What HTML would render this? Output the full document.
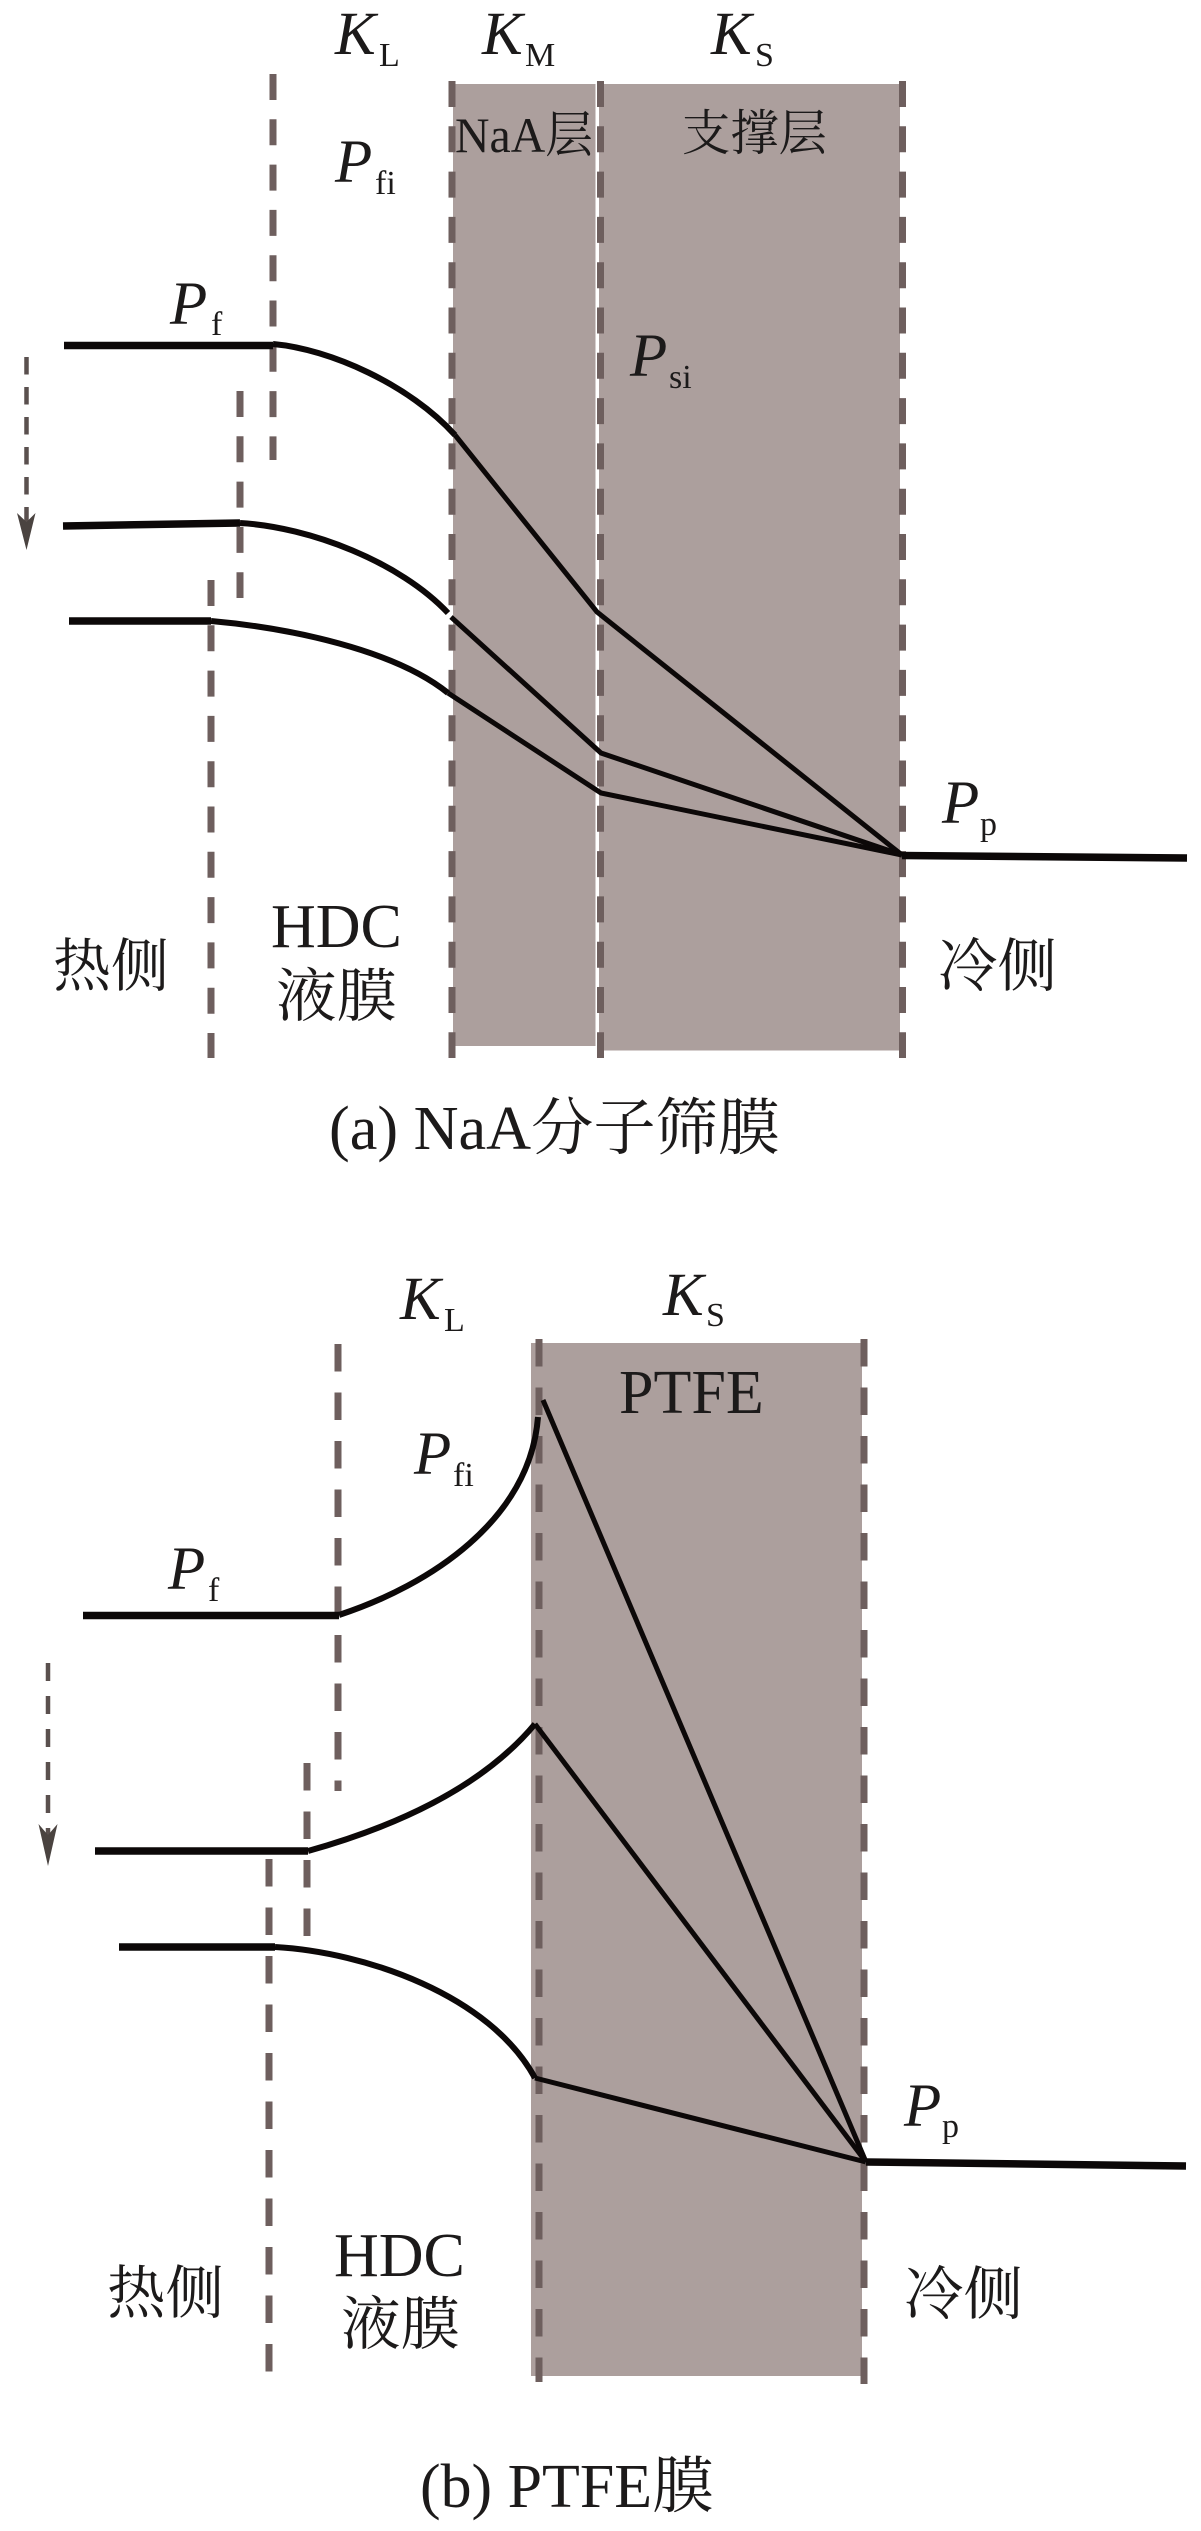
<!DOCTYPE html>
<html><head><meta charset="utf-8">
<style>
html,body{margin:0;padding:0;background:#fff}
svg{display:block}
text{font-family:"Liberation Serif","Noto Serif CJK SC",serif;fill:#1c1a1a}
.k{font-size:61px;font-style:italic}
.s{font-size:34px}
.c{font-size:58px}
.t{font-size:62px}
.d{stroke:#6e5f5e;stroke-width:7;fill:none;stroke-dasharray:26 19.300}
.e{stroke:#6e5f5e;stroke-width:7;fill:none;stroke-dasharray:27.500 21}
.a{stroke:#5a504e;stroke-width:4.500;fill:none}
.l{stroke:#0c0808;stroke-width:5;fill:none;stroke-linejoin:miter}
.m{stroke:#0c0808;stroke-width:6;fill:none}
.h{stroke:#0c0808;stroke-width:7.500;fill:none}
</style></head>
<body>
<svg width="1201" height="2531" viewBox="0 0 1201 2531" xmlns="http://www.w3.org/2000/svg">
<rect width="1201" height="2531" fill="#fff"/>
<!-- panel a -->
<rect x="453" y="84" width="142.500" height="962" fill="#ac9f9d"/>
<rect x="599" y="84" width="301" height="966.500" fill="#ac9f9d"/>
<path class="d" d="M452 81V1058M600.500 81V1058M902.500 81V1058M273 74V460M240 391V598M211 580V1058"/>
<path class="a" stroke-dasharray="17.500 12.500" d="M26.500 357V522"/>
<polygon points="26.500,550 17,513 26.500,522 35.500,513" fill="#4a4340"/>
<path class="h" d="M64 345.500H273M63 526L240 523M69 621H211"/>
<path class="h" stroke-width="6.500" d="M902 855.500L1187 858"/>
<path class="m" d="M273 344C330 349 410 385 455 435"/>
<path class="l" d="M455 435L597 612L902 855"/>
<path class="m" d="M240 523C310 527 400 562 448 613"/>
<path class="l" d="M451 617L601 753L902 855"/>
<path class="m" d="M211 621C290 628 395 650 448 693"/>
<path class="l" d="M448 693L601 793L902 855"/>
<text class="k" x="335" y="54">K</text><text class="s" x="379" y="66">L</text>
<text class="k" x="482" y="54">K</text><text class="s" x="525" y="66">M</text>
<text class="k" x="711" y="54">K</text><text class="s" x="755" y="66">S</text>
<text class="k" x="335" y="182">P</text><text class="s" x="375" y="194">fi</text>
<text class="k" x="170" y="324">P</text><text class="s" x="211" y="335">f</text>
<text class="k" x="630" y="376">P</text><text class="s" x="669" y="388">si</text>
<text class="k" x="942" y="823">P</text><text class="s" x="980" y="835">p</text>
<text x="455" y="152" font-size="50" textLength="138" lengthAdjust="spacingAndGlyphs">NaA层</text>
<text x="682" y="150" font-size="49" textLength="145" lengthAdjust="spacingAndGlyphs">支撑层</text>
<text class="c" x="53" y="986">热侧</text>
<text class="t" x="271" y="947">HDC</text>
<text class="c" x="276" y="1016" textLength="121" lengthAdjust="spacingAndGlyphs">液膜</text>
<text class="c" x="938" y="986" textLength="119" lengthAdjust="spacingAndGlyphs">冷侧</text>
<text class="t" x="329" y="1149" textLength="451" lengthAdjust="spacingAndGlyphs">(a) NaA分子筛膜</text>
<!-- panel b -->
<rect x="531" y="1343" width="331" height="1033" fill="#ac9f9d"/>
<path class="e" d="M539 1339V2382M864 1339V2384M338 1344V1791M307 1763V1936M269 1859V2372"/>
<path class="a" stroke-dasharray="18 15" d="M48 1663V1835"/>
<polygon points="48,1866 38.500,1824 48,1835 57.500,1824" fill="#4a4340"/>
<path class="h" d="M83 1615.500H339M95 1851H308M119 1947H275"/>
<path class="h" stroke-width="6.500" d="M866 2162L1186 2166"/>
<path class="m" d="M339 1615C430 1585 530 1520 538 1417"/>
<path class="l" d="M543 1400L866 2162"/>
<path class="m" d="M308 1851C390 1828 480 1790 535 1724"/>
<path class="l" d="M535 1724L866 2162"/>
<path class="m" d="M275 1947C365 1952 490 1995 535 2078"/>
<path class="l" stroke-width="6" d="M535 2078L866 2162"/>
<text class="k" x="400" y="1319">K</text><text class="s" x="444" y="1331">L</text>
<text class="k" x="663" y="1315">K</text><text class="s" x="706" y="1326">S</text>
<text class="t" x="619" y="1413">PTFE</text>
<text class="k" x="414" y="1474">P</text><text class="s" x="453" y="1486">fi</text>
<text class="k" x="168" y="1589">P</text><text class="s" x="208" y="1601">f</text>
<text class="k" x="904" y="2126">P</text><text class="s" x="942" y="2137">p</text>
<text class="c" x="107" y="2313" textLength="117" lengthAdjust="spacingAndGlyphs">热侧</text>
<text class="t" x="334" y="2276">HDC</text>
<text class="c" x="341" y="2344" textLength="119" lengthAdjust="spacingAndGlyphs">液膜</text>
<text class="c" x="904" y="2314" textLength="119" lengthAdjust="spacingAndGlyphs">冷侧</text>
<text class="t" x="420" y="2507" textLength="294" lengthAdjust="spacingAndGlyphs">(b) PTFE膜</text>
</svg>
</body></html>
